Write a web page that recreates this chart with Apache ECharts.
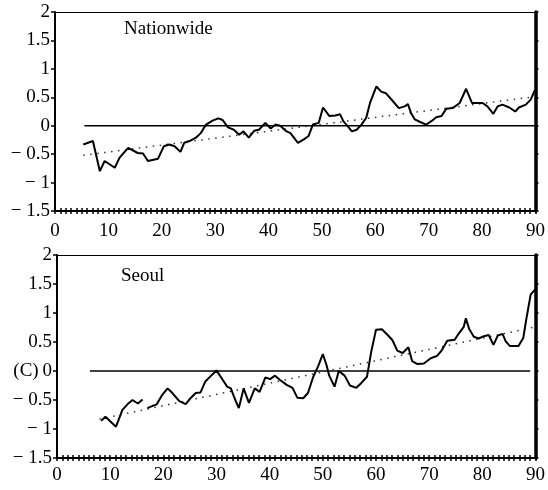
<!DOCTYPE html>
<html>
<head>
<meta charset="utf-8">
<script src="https://cdn.jsdelivr.net/npm/echarts@6/dist/echarts.min.js"></script>
<style>
  html, body { margin: 0; padding: 0; background: #fff; }
  #chart { width: 548px; height: 490px; }
</style>
</head>
<body>
<div id="chart"></div>
<script>
// ---- data ----
const panelNames = ['Nationwide', 'Seoul'];
const xTicks = [0, 10, 20, 30, 40, 50, 60, 70, 80, 90];
const yTicks = [-1.5, -1, -0.5, 0, 0.5, 1, 1.5, 2];

// Nationwide anomaly curve
const natYears = [5.3, 7.1, 8.4, 9.3, 11.2, 12.1, 13.7, 15.5, 16.5, 17.4, 19.3, 20.4, 21.4, 22.4, 23.5, 24.2, 25.2, 26.4, 27.3, 28.3,
  29.5, 30.6, 31.4, 32.4, 33.5, 34.5, 35.3, 36.3, 37.3, 38.2, 39.4, 40.4, 41.3, 42.2, 43.2, 44.1, 45.5, 46.6, 47.5, 48.3,
  49.4, 50.2, 51.4, 52.5, 53.4, 54.0, 55.0, 55.6, 56.5, 57.4, 58.3, 59.0, 60.2, 61.1, 62.0, 63.3, 64.4, 65.5, 66.1, 66.7,
  67.4, 68.3, 69.5, 70.5, 71.4, 72.4, 73.3, 74.5, 75.8, 77.0, 78.1, 79.1, 80.1, 81.0, 82.1, 82.9, 83.8, 85.1, 86.2, 86.9,
  88.2, 89.1, 89.9];
const natValues = [-0.33, -0.27, -0.80, -0.62, -0.74, -0.56, -0.39, -0.48, -0.49, -0.62, -0.58, -0.36, -0.33, -0.36, -0.46, -0.30, -0.27, -0.21, -0.13, 0.02,
  0.09, 0.13, 0.10, -0.03, -0.07, -0.16, -0.10, -0.21, -0.09, -0.07, 0.05, -0.05, 0.02, 0.0, -0.09, -0.13, -0.30, -0.24, -0.18, 0.02,
  0.05, 0.32, 0.17, 0.18, 0.20, 0.08, -0.03, -0.10, -0.07, 0.02, 0.14, 0.40, 0.69, 0.60, 0.57, 0.43, 0.31, 0.34, 0.38, 0.22,
  0.11, 0.07, 0.02, 0.08, 0.15, 0.17, 0.30, 0.31, 0.40, 0.65, 0.40, 0.40, 0.40, 0.34, 0.21, 0.34, 0.37, 0.32, 0.25, 0.32,
  0.37, 0.46, 0.63];

// Seoul anomaly curve (null = break in the record)
const seoulYears = [8.3, 9.1, 11.1, 12.3, 13.3, 14.2, 15.2, 16.1, 16.5, 17.0, 18.0, 18.7, 19.8, 20.8, 21.7, 23.0, 24.2, 25.1, 26.1, 27.0,
  27.9, 29.0, 30.0, 31.0, 32.0, 32.7, 33.4, 34.2, 35.1, 36.1, 37.2, 38.1, 39.2, 40.1, 41.0, 41.9, 43.2, 44.3, 45.2, 46.3,
  47.2, 48.2, 49.1, 50.0, 50.7, 51.2, 52.2, 53.0, 54.1, 55.1, 56.3, 57.2, 58.3, 59.1, 60.0, 61.1, 62.2, 63.1, 64.0, 65.0,
  66.1, 66.8, 67.8, 69.0, 70.3, 71.5, 72.4, 73.4, 74.8, 75.6, 76.5, 76.9, 77.5, 78.4, 79.3, 80.3, 81.2, 82.1, 82.9, 83.8,
  84.4, 85.2, 86.0, 86.8, 87.7, 88.3, 89.1, 90.0];
const seoulValues = [-0.86, -0.79, -0.96, -0.67, -0.57, -0.50, -0.56, -0.49, null, -0.64, -0.60, -0.58, -0.41, -0.30, -0.38, -0.52, -0.57, -0.47, -0.38, -0.37,
  -0.18, -0.08, 0.01, -0.13, -0.27, -0.30, -0.47, -0.64, -0.30, -0.55, -0.30, -0.36, -0.11, -0.14, -0.08, -0.15, -0.24, -0.29, -0.46, -0.47,
  -0.38, -0.10, 0.08, 0.29, 0.10, -0.08, -0.27, 0.0, -0.08, -0.25, -0.29, -0.21, -0.10, 0.33, 0.71, 0.72, 0.62, 0.53, 0.35, 0.31,
  0.41, 0.17, 0.12, 0.13, 0.22, 0.26, 0.36, 0.52, 0.54, 0.65, 0.76, 0.91, 0.73, 0.59, 0.56, 0.60, 0.62, 0.45, 0.61, 0.64,
  0.51, 0.43, 0.43, 0.43, 0.57, 0.91, 1.32, 1.41];

// linear trend end points [year, value] and zero reference line extent
const natTrend = [[5.3, -0.52], [89.0, 0.50]];
const seoulTrend = [[8.0, -0.83], [90.0, 0.76]];
const natZero = [[5.5, 0], [90, 0]];
const seoulZero = [[6.2, 0], [89, 0]];

// ---- helpers ----
const zip = (xs, ys) => xs.map((x, i) => [x, ys[i]]);
const serif = '"Liberation Serif", "DejaVu Serif", serif';
const fmtY = (v) => (v < 0 ? '\u2212 ' + Math.abs(v) : String(v));

const grids = [
  { left: 55, top: 12, width: 483, height: 199 },
  { left: 57, top: 255, width: 482, height: 203 }
];

const xAxes = [];
const yAxes = [];
grids.forEach((g, i) => {
  // main bottom axis with labels and outward ticks
  xAxes.push({
    type: 'value', gridIndex: i, min: xTicks[0], max: xTicks[xTicks.length - 1], interval: 10,
    position: 'bottom',
    axisLine: { onZero: false, lineStyle: { color: '#000', width: 2 } },
    axisTick: { length: 3, lineStyle: { color: '#000', width: 1.5 } },
    minorTick: { show: true, splitNumber: 10, length: 3, lineStyle: { color: '#000', width: 1.5 } },
    axisLabel: { color: '#000', fontFamily: serif, fontSize: 19, margin: i === 0 ? 11 : 8 },
    splitLine: { show: false }
  });
  // overlay bottom axis for inward tick halves
  xAxes.push({
    type: 'value', gridIndex: i, min: 0, max: 90, interval: 10, position: 'bottom',
    axisLine: { show: false, onZero: false },
    axisTick: { inside: true, length: 3, lineStyle: { color: '#000', width: 1.5 } },
    minorTick: { show: true, splitNumber: 10, length: 3, lineStyle: { color: '#000', width: 1.5 } },
    axisLabel: { show: false }, splitLine: { show: false }
  });
  // top frame line
  xAxes.push({
    type: 'value', gridIndex: i, min: 0, max: 90, position: 'top',
    axisLine: { onZero: false, lineStyle: { color: '#000', width: 1.2 } },
    axisTick: { show: false }, axisLabel: { show: false }, splitLine: { show: false }
  });
  yAxes.push({
    type: 'value', gridIndex: i, min: yTicks[0], max: yTicks[yTicks.length - 1], interval: 0.5,
    position: 'left',
    axisLine: { show: true, onZero: false, lineStyle: { color: '#000', width: 2 } },
    axisTick: { show: true, length: 4, lineStyle: { color: '#000', width: 1.5 } },
    axisLabel: {
      color: '#000', fontFamily: serif, fontSize: 19, margin: 5,
      formatter: (v) => (i === 1 && v === 0 ? '(C)\u20090' : fmtY(v))
    },
    splitLine: { show: false }
  });
  yAxes.push({
    type: 'value', gridIndex: i, min: -1.5, max: 2, interval: 0.5, position: 'right',
    axisLine: { show: true, onZero: false, lineStyle: { color: '#000', width: 3.5 } },
    axisTick: { show: true, length: 3, lineStyle: { color: '#000', width: 1.5 } },
    axisLabel: { show: false }, splitLine: { show: false }
  });
});

const panels = [
  { curve: zip(natYears, natValues), trend: natTrend, zero: natZero },
  { curve: zip(seoulYears, seoulValues), trend: seoulTrend, zero: seoulZero }
];

const series = [];
panels.forEach((p, i) => {
  const xi = i * 3, yi = i * 2;
  series.push({
    type: 'line', xAxisIndex: xi, yAxisIndex: yi, data: p.zero, symbol: 'none', silent: true,
    lineStyle: { color: '#000', width: 1.5 }
  });
  series.push({
    type: 'line', xAxisIndex: xi, yAxisIndex: yi, data: p.trend, symbol: 'none', silent: true,
    lineStyle: { color: '#333', width: 1.5, type: [1.5, 5.5] }
  });
  series.push({
    type: 'line', xAxisIndex: xi, yAxisIndex: yi, data: p.curve, symbol: 'none',
    connectNulls: false, lineStyle: { color: '#000', width: 2 }
  });
});

const chart = echarts.init(document.getElementById('chart'), null, { renderer: 'canvas' });
chart.setOption({
  animation: false,
  backgroundColor: '#fff',
  title: [
    { text: panelNames[0], left: 119, top: 15, textStyle: { fontFamily: serif, fontSize: 19, fontWeight: 'normal', color: '#000' } },
    { text: panelNames[1], left: 116, top: 262, textStyle: { fontFamily: serif, fontSize: 19, fontWeight: 'normal', color: '#000' } }
  ],
  grid: grids,
  xAxis: xAxes,
  yAxis: yAxes,
  series: series
});
</script>
</body>
</html>
